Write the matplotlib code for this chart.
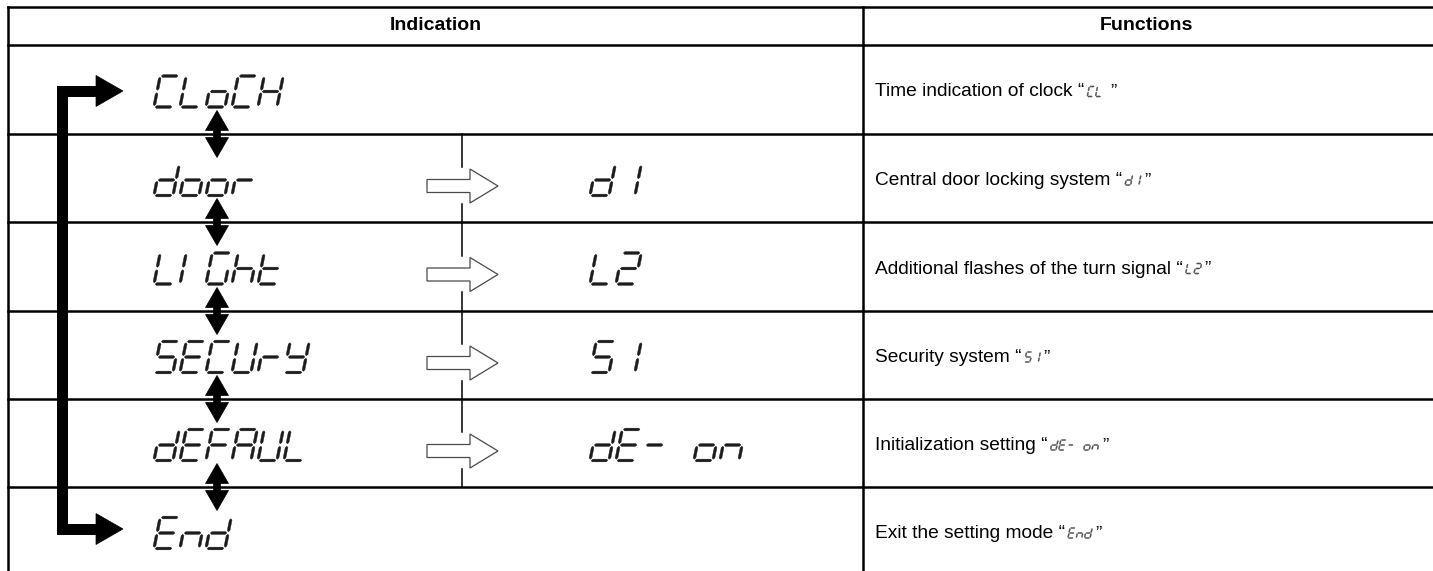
#-----------------------------
# Import Modules
import matplotlib
matplotlib.use('Agg')
import matplotlib.pyplot as plt
from matplotlib.patches import Polygon
#-----------------------------

# Data
indications = ['CLoCH', 'door', 'LIGht', 'SECUrY', 'dEFAUL', 'End']
settings = ['', 'd1', 'L2', '51', 'dE- on', '']
functions = ['Time indication of clock', 'Central door locking system',
             'Additional flashes of the turn signal', 'Security system',
             'Initialization setting', 'Exit the setting mode']
codes = ['CL ', 'd1', 'L2', '51', 'dE- on', 'End']
headers = ['Indication', 'Functions']

# seven segment map (a top, b upper right, c lower right, d bottom, e lower left, f upper left, g middle)
SEGS = {'C': 'adef', 'L': 'def', 'o': 'cdeg', 'H': 'bcefg', 'd': 'bcdeg', 'r': 'eg',
        'I': 'ef', 'G': 'acdef', 'h': 'cefg', 't': 'defg', 'S': 'acdfg', '5': 'acdfg',
        'E': 'adefg', 'U': 'bcdef', 'Y': 'bcdfg', 'F': 'aefg', 'A': 'abcefg',
        '1': 'bc', '2': 'abdeg', '-': 'g', 'n': 'ceg', ' ': ''}

FONT = 'Liberation Sans'
W, H = 1433, 571


def draw_7seg(ax, s, x0, ybot, h, w, t, pitch, color, slant=0.2):
    ht = t / 2
    gap = t * 0.45
    for i, ch in enumerate(s):
        bx = x0 + i * pitch
        for seg in SEGS.get(ch, ''):
            if seg in 'agd':
                yy = {'a': h, 'g': h / 2, 'd': 0}[seg]
                xa, xb = gap, w - gap
                pts = [(xa, yy), (xa + ht, yy + ht), (xb - ht, yy + ht), (xb, yy),
                       (xb - ht, yy - ht), (xa + ht, yy - ht)]
            else:
                xx = 0 if seg in 'ef' else w
                ya, yb = (h / 2, h) if seg in 'bf' else (0, h / 2)
                ya += gap
                yb -= gap
                pts = [(xx, ya), (xx + ht, ya + ht), (xx + ht, yb - ht), (xx, yb),
                       (xx - ht, yb - ht), (xx - ht, ya + ht)]
            pts = [(bx + px + slant * py, ybot - py) for px, py in pts]
            ax.add_patch(Polygon(pts, closed=True, fc=color, ec=color, lw=0.3))


fig = plt.figure(figsize=(W / 100, H / 100), dpi=100)
ax = fig.add_axes([0, 0, 1, 1])
ax.set_xlim(0, W)
ax.set_ylim(H, 0)
ax.axis('off')

# table grid
lw = 1.8
row_lines = [45, 134, 222, 311, 399, 487]
ax.plot([8, W], [7, 7], color='k', lw=lw)
for y in row_lines:
    ax.plot([8, W], [y, y], color='k', lw=lw)
ax.plot([8, 8], [7, H], color='k', lw=lw)
ax.plot([863, 863], [7, H], color='k', lw=lw)

ax.text(435.5, 26, headers[0], ha='center', va='center', fontsize=14,
        fontweight='bold', family=FONT)
ax.text(1146, 26, headers[1], ha='center', va='center', fontsize=14,
        fontweight='bold', family=FONT)

bounds = row_lines + [575]
centers = [(bounds[i] + bounds[i + 1]) / 2 for i in range(len(indications))]

# indication glyphs
for i, s in enumerate(indications):
    draw_7seg(ax, s, 154, centers[i] + 2 + 15.5, 31, 19, 2.7, 26, '#1c1c1c')

# settings glyphs + hollow arrows + broken divider
div_pieces = []
prev = 134
for i, s in enumerate(settings):
    if not s:
        continue
    yc = centers[i] + 8
    draw_7seg(ax, s, 590, centers[i] + 2 + 15.5, 31, 19, 2.7, 26, '#1c1c1c')
    arrow = [(427, yc - 6.5), (470, yc - 6.5), (470, yc - 17), (498, yc),
             (470, yc + 17), (470, yc + 6.5), (427, yc + 6.5)]
    ax.add_patch(Polygon(arrow, closed=True, fc='white', ec='#4a4a4a', lw=0.9))
    div_pieces.append((prev, yc - 19))
    prev = yc + 17.5
div_pieces.append((prev, 487))
for a, b in div_pieces:
    ax.plot([462, 462], [a, b], color='k', lw=1.1)

# loop bracket arrow
ax.plot([97, 62.5, 62.5, 97], [91, 91, 529, 529], color='k', lw=7.9,
        solid_joinstyle='miter', solid_capstyle='butt')
for yc in [91, 529]:
    ax.add_patch(Polygon([(96, yc - 15.5), (123, yc), (96, yc + 15.5)], closed=True,
                         fc='k', ec='k', lw=0.5))

# double arrows between rows
cx = 217
for y in row_lines[1:]:
    pts = [(cx, y - 23.5), (cx + 11.5, y - 3.5), (cx + 3.5, y - 3.5), (cx + 3.5, y + 3.5),
           (cx + 11.5, y + 3.5), (cx, y + 23.5), (cx - 11.5, y + 3.5), (cx - 3.5, y + 3.5),
           (cx - 3.5, y - 3.5), (cx - 11.5, y - 3.5)]
    ax.add_patch(Polygon(pts, closed=True, fc='k', ec='k', lw=0.5))

# functions column
renderer = fig.canvas.get_renderer()
inv = ax.transData.inverted()
for i, f in enumerate(functions):
    yb = centers[i] + 7
    t1 = ax.text(875, yb, f + ' \u201c', fontsize=13.8, family=FONT, va='baseline')
    bb = t1.get_window_extent(renderer)
    x_end = inv.transform((bb.x1, bb.y0))[0]
    gx = x_end + 3
    code = codes[i].rstrip()
    draw_7seg(ax, code, gx, yb, 10, 5.5, 1.1, 8.3, '#505050')
    x_after = gx + (len(code) - 1) * 8.3 + 5.5 + 2 + 3
    if codes[i].endswith(' '):
        x_after += 4
    ax.text(x_after, yb, '\u201d', fontsize=13.8, family=FONT, va='baseline')

fig.savefig('out.png', dpi=100)
